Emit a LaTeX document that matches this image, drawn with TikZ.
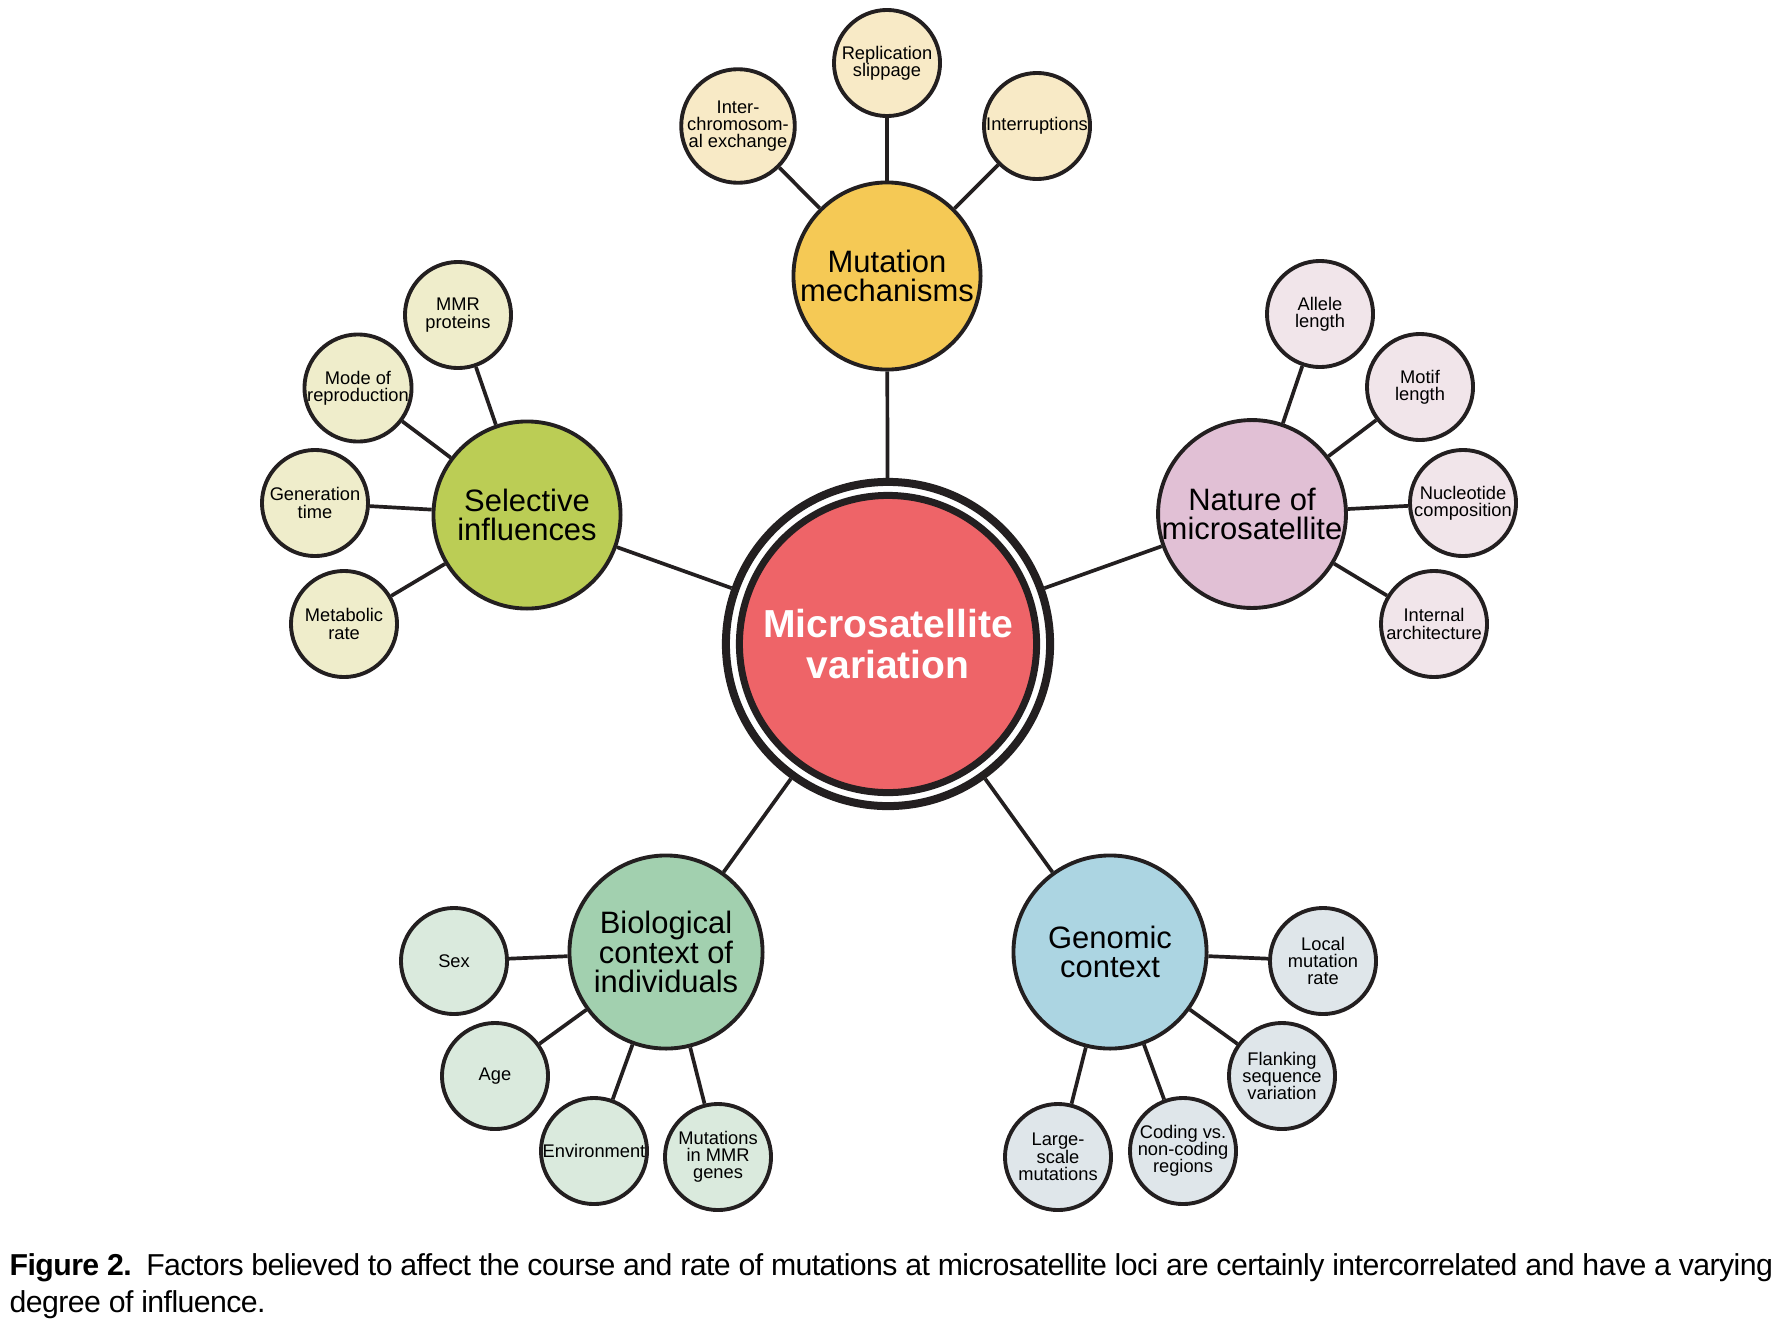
\documentclass[tikz,border=0pt]{standalone}
\usepackage{fontspec}
\setmainfont{Liberation Sans}
\newfontfamily\capfont{Liberation Sans}[LetterSpace=-1.9]
\usepackage{tikz}
\usetikzlibrary{positioning}

\begin{document}
\begin{tikzpicture}[x=0.01cm,y=-0.01cm,
    hub/.style={circle,draw=ink,line width=1.1pt,minimum size=1.87cm,inner sep=0pt,align=center,
      font=\fontsize{8.8}{8.4}\selectfont},
    leaf/.style={circle,draw=ink,line width=1.1pt,minimum size=1.06cm,inner sep=0pt,align=center,
      font=\fontsize{5.2}{4.9}\selectfont},
    link/.style={draw=ink,line width=1.05pt}]
    \definecolor{ink}{RGB}{35,31,32}
    \definecolor{cCore}{RGB}{238,100,104}
    \definecolor{cMut}{RGB}{245,201,85}\definecolor{cMutL}{RGB}{248,234,198}
    \definecolor{cSel}{RGB}{187,205,85}\definecolor{cSelL}{RGB}{239,237,203}
    \definecolor{cNat}{RGB}{225,192,213}\definecolor{cNatL}{RGB}{241,229,234}
    \definecolor{cBio}{RGB}{162,208,175}\definecolor{cBioL}{RGB}{218,234,221}
    \definecolor{cGen}{RGB}{172,213,226}\definecolor{cGenL}{RGB}{223,230,234}
    \useasboundingbox (0,0) rectangle (1792,1324);
    % central double ring
    \node[circle,draw=ink,line width=0.08cm,fill=white,minimum size=3.24cm] (ring) at (888,644) {};
    \node[circle,draw=ink,line width=0.07cm,fill=cCore,minimum size=2.97cm,align=center,text=white,
      font=\bfseries\fontsize{11.1}{11.4}\selectfont] (core) at (ring) {Microsatellite\\variation};
    % five factor groups
    \node[hub,fill=cMut] (mm) at (887,276) {Mutation\\mechanisms};
    \node[hub,fill=cSel] (si) at (527,515) {Selective\\influences};
    \node[hub,fill=cNat] (nm) at (1252,514) {Nature of\\microsatellite};
    \node[hub,fill=cBio,minimum size=1.93cm] (bc) at (666,952) {Biological\\context of\\individuals};
    \node[hub,fill=cGen,minimum size=1.93cm] (gc) at (1110,952) {Genomic\\context};
    \foreach \h in {mm,si,nm,bc,gc}
       \draw[link] (ring) -- (\h);
    % leaves
    \foreach \n/\x/\y/\t in {ic/738/126/{Inter-\\chromosom-\\al exchange},rs/887/63/{Replication\\slippage},
                             ir/1037/126/{Interruptions}}{
       \node[leaf,fill=cMutL] (\n) at (\x,\y) {\t};
       \draw[link] (mm) -- (\n);
    }
    \foreach \n/\x/\y/\t in {mp/458/315/{MMR\\proteins},mr/358/388/{Mode of\\reproduction},
                             gt/315/503/{Generation\\time},mb/344/624/{Metabolic\\rate}}{
       \node[leaf,fill=cSelL] (\n) at (\x,\y) {\t};
       \draw[link] (si) -- (\n);
    }
    \foreach \n/\x/\y/\t in {al/1320/314/{Allele\\length},ml/1420/387/{Motif\\length},
                             nc/1463/503/{Nucleotide\\composition},ia/1434/624/{Internal\\architecture}}{
       \node[leaf,fill=cNatL] (\n) at (\x,\y) {\t};
       \draw[link] (nm) -- (\n);
    }
    \foreach \n/\x/\y/\t in {sx/454/961/{Sex},ag/495/1076/{Age},
                             en/594/1151/{Environment},mg/718/1157/{Mutations\\in MMR\\genes}}{
       \node[leaf,fill=cBioL] (\n) at (\x,\y) {\t};
       \draw[link] (bc) -- (\n);
    }
    \foreach \n/\x/\y/\t in {lm/1323/961/{Local\\mutation\\rate},fs/1282/1076/{Flanking\\sequence\\variation},
                             cn/1183/1151/{Coding vs.\\non-coding\\regions},ls/1058/1157/{Large-\\scale\\mutations}}{
       \node[leaf,fill=cGenL] (\n) at (\x,\y) {\t};
       \draw[link] (gc) -- (\n);
    }
    % caption
    \node[anchor=base west,inner sep=0pt,font=\capfont\fontsize{8.6}{10}\selectfont] (cap1) at (9,1275)
       {\textbf{Figure 2.}\enspace Factors believed to affect the course and rate of mutations at microsatellite loci are certainly intercorrelated and have a varying};
    \node[anchor=base west,inner sep=0pt,font=\capfont\fontsize{8.6}{10}\selectfont] (cap2) at (9,1312)
       {degree of influence.};
  \end{tikzpicture}
\end{document}
